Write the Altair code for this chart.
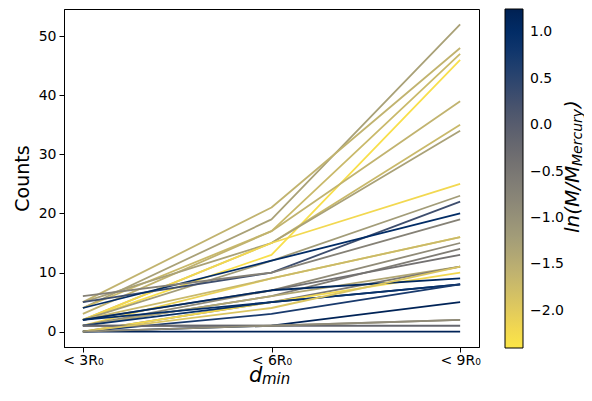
import altair as alt
import pandas as pd

# x categories (positions 0,1,2)
x_labels = ["< 3R₀", "< 6R₀", "< 9R₀"]

# one entry per line: counts at <3R0, <6R0, <9R0 and ln(M/M_Mercury)
c3 = [4, 5, 4, 2, 3, 2, 5, 2, 2, 5, 4, 6, 1, 2, 1, 1, 2, 1, 0, 0, 2, 2, 1, 0, 0, 1, 1, 0, 0, 0]
c6 = [19, 21, 17, 13, 17, 15, 15, 15, 12, 10, 12, 10, 9, 9, 7, 6, 7, 6, 5, 5, 7, 5, 5, 3, 1, 1, 1, 0, 4, 1]
c9 = [52, 48, 47, 46, 39, 35, 34, 25, 23, 22, 20, 19, 16, 16, 15, 14, 13, 11, 11, 10, 9, 8, 8, 8, 5, 2, 1, 0, 11, 2]
lnm = [-1.3, -1.6, -1.7, -2.3, -1.6, -1.7, -1.3, -2.2, -1.2, 0.3, 1.0, -0.7, -2.1, -1.7, -0.9,
       -0.6, -0.4, -1.4, -0.5, -2.2, 1.1, 1.0, 0.9, 0.7, 1.2, -0.8, -0.2, 1.2, -1.9, -0.9]

rows = []
for i in range(len(c3)):
    for pos, cnt in enumerate([c3[i], c6[i], c9[i]]):
        rows.append({"id": i, "pos": pos, "count": cnt, "lnm": lnm[i]})
df = pd.DataFrame(rows)

font = "DejaVu Sans"
label_expr = "[" + ",".join("'" + s + "'" for s in x_labels) + "][datum.value]"

lines = alt.Chart(df).mark_line(strokeWidth=1.8, strokeJoin="round").encode(
    x=alt.X("pos:Q",
            scale=alt.Scale(domain=[-0.1, 2.1], nice=False, zero=False),
            axis=alt.Axis(values=[0, 1, 2], labelExpr=label_expr, title=None, grid=False,
                          tickSize=5, labelPadding=1, labelFontSize=14, labelFont=font,
                          labelColor="black", tickColor="black", domainColor="black")),
    y=alt.Y("count:Q",
            scale=alt.Scale(domain=[-2.6, 54.6], nice=False, zero=False),
            axis=alt.Axis(values=[0, 10, 20, 30, 40, 50], title="Counts", grid=False,
                          tickSize=5, labelPadding=3, labelFontSize=14, labelFont=font,
                          titleFont=font, titleFontSize=19, titleFontWeight="normal",
                          titleColor="black", titlePadding=6,
                          labelColor="black", tickColor="black", domainColor="black")),
    color=alt.Color("lnm:Q",
                    scale=alt.Scale(scheme="cividis", reverse=True, domain=[-2.4, 1.25]),
                    legend=alt.Legend(title=None, orient="right", offset=26, direction="vertical",
                                      gradientLength=339, gradientThickness=18,
                                      values=[-2.0, -1.5, -1.0, -0.5, 0.0, 0.5, 1.0], format=".1f",
                                      labelFont=font, labelFontSize=14, labelColor="black",
                                      labelOffset=7, gradientStrokeColor="black",
                                      gradientStrokeWidth=1, padding=0)),
    detail="id:N",
    order="pos:Q",
)

one = pd.DataFrame({"k": [0]})

def txt(s, x, y, size, angle=0):
    kw = dict(text=s, font=font, fontSize=size, fontStyle="italic", color="black",
              align="left", baseline="alphabetic")
    if angle:
        kw["angle"] = angle
    return alt.Chart(one).mark_text(**kw).encode(x=alt.value(x), y=alt.value(y))

# x axis title d_min
xt1 = txt("d", 185, 373, 21)
xt2 = txt("min", 198, 375, 15)
# colorbar title ln(M/M_Mercury), rotated
ct1 = txt("ln(M/M", 515, 224, 20, 270)
ct2 = txt("Mercury", 518, 157, 14, 270)
ct3 = txt(")", 515, 99, 20, 270)

chart = alt.layer(lines, xt1, xt2, ct1, ct2, ct3).properties(
    width=415, height=338,
    autosize=alt.AutoSizeParams(type="none"),
    padding={"left": 56, "top": 1, "right": 105, "bottom": 40},
).configure_view(stroke="black", strokeWidth=1)

chart.save("out.html", embed_options={"renderer": "svg", "actions": False})
